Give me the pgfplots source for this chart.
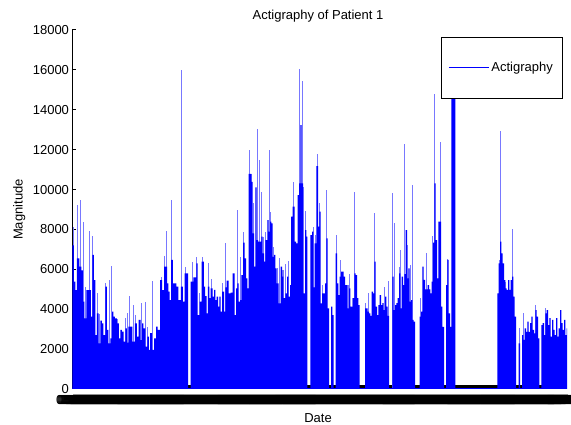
\documentclass[border=0pt]{standalone}
\usepackage{fontspec}
\setmainfont{Liberation Sans}
\usepackage{pgfplots}
\pgfplotsset{compat=1.18}
\definecolor{actblue}{RGB}{0,0,255}
\definecolor{actspike}{RGB}{120,120,255}
\newcommand\chartfont{\fontsize{13}{15}\selectfont}

% activity level between samples (x = sample position, y = counts)
\pgfplotstableread{
x y
72.5 7200
74 5380
75.5 4960
77 6550
79.3 6130
81.5 5950
83 4380
84.5 3540
86.5 4960
89 4960
91 3630
92.3 6720
94 5460
95.5 2700
97 3790
98.7 2290
100.3 3430
102 3290
103.5 2700
105.3 5130
106.8 2960
108.5 2290
110.5 2540
112.2 3880
113.5 3630
115 3540
117 3290
118.8 2540
120.3 2960
122 2880
123.7 2370
125.3 3040
126.8 2320
128.5 3130
130.3 3130
132.5 2370
135 3290
137 2620
138.7 3460
140.7 2450
142.2 3290
143.5 3040
145.3 2120
147.3 2620
148.8 1960
150.2 2800
152 1960
154 2540
156 3130
157.5 2960
160 5460
162.2 4960
164 6130
165.5 6130
167 5300
168.3 4880
169.7 4460
171 6470
172.8 5300
174.5 5300
176.3 5130
178.3 4460
180.8 5130
182.8 4380
184.5 5800
186.5 5800
188 0
190.7 5380
193.3 5600
196.3 6300
197.7 3710
199.5 4380
201.7 6380
203.8 5130
205.2 4660
206.5 3790
207.8 5130
209.3 4550
210.7 5050
212.5 4630
214 4970
215.3 4460
216.7 4630
218 4130
219.3 4630
220.7 3880
222 4880
224 3880
225.3 5100
226.7 5430
228.5 4800
230.5 4830
232.5 5800
234.5 3710
236 5050
237.3 5300
238.7 4380
240 4460
241.3 5710
243 7340
244.7 6550
246 5550
247.3 5050
248.7 10780
250 10780
251.3 10390
252.7 7800
254 6130
255.3 10110
256.7 7470
258 7390
259.3 7390
261.3 7640
262.7 6800
264 6380
265.3 7470
267.3 8470
268.7 7890
270 8390
271.3 8300
272.7 6630
274 6720
275.3 6050
276.7 5300
278.7 4290
280.7 6130
282 5630
283.3 4550
285.3 4800
287 5630
288.3 4630
290 5210
291 8640
292.7 9140
294.7 7390
296 7300
297.7 9720
299 10310
300.3 13230
301.7 10310
303 4800
305 7970
306.3 7640
307.3 0
310.3 7720
312 7890
313.3 5100
314.7 7300
316.3 11180
318 8140
319.3 8890
320.7 4290
322 4800
323.3 4800
325 5300
326.3 7550
327.7 4040
329 0
331 4130
332.3 3710
333.7 0
335.7 6800
337 5300
338.3 4710
339.7 5630
341 5880
342.3 5880
343.7 5630
345 5210
346.3 5210
347.7 4040
349 5050
350.3 4130
351.7 4130
353 4550
354.3 5800
355.7 5710
357 4550
358.3 4210
359.7 0
365 4040
366.3 4040
367.7 3880
369 3790
370.3 3660
371.7 4880
373 4800
374.3 6380
375.7 4130
377 3710
378.3 4210
379.7 4710
381 4210
382.3 4300
383.7 3960
385 4630
386.3 4130
387.7 3660
389 0
392.3 5630
393.7 3960
395 4210
396.3 4300
397.7 4550
399 5800
400.3 4040
401.7 5630
403 5210
404.3 5760
405.7 7970
407 5550
408.3 6050
409.7 4380
411 4460
412.3 3460
413.7 3380
415 0
419.7 3630
421 3880
422.3 6130
423.7 5470
425 4990
426.3 4990
427.7 5210
429 4990
430.3 4800
431.7 5380
433 7340
434.3 10310
435.7 7470
437 5550
438.3 8390
439.7 8390
441 4130
442.3 3120
444 0
446 5210
447.3 6470
448.7 3790
450 3120
451.3 17500
455.3 0
497.3 4800
498.7 6300
500 7390
501.3 6800
502.7 6300
504 5460
505.3 5050
506.7 4970
508 5460
509.3 4970
510.7 5460
512 5630
513.3 4630
514.7 3630
516 0
518.7 2290
520 0
522 2700
523.3 2460
524.7 3040
526 2870
527.3 3380
528.7 2870
530 3300
531.3 3630
532.7 2960
534 2790
535.3 3960
536.7 3630
538 2540
539.3 0
541.3 3200
542.7 3300
544 2700
545.3 3790
546.7 3960
548 3200
549.3 3550
550.7 2620
552 3460
553.3 2960
554.7 2700
556 3550
557.3 2620
558.7 3040
560 3960
561.3 3300
562.7 2960
564 3460
565.3 2700
566.7 3040
567 3040
}\actlevel

% short bursts rising above the level
\pgfplotstableread{
x y
74 8100
78 9220
80.3 9500
83.3 8390
85.3 5130
90 7920
92.7 7670
97.3 4800
99.3 3750
106 5300
109.3 5460
111.3 6170
117.7 3520
126 3540
127.3 3790
129.3 4660
133.3 4210
135.7 3710
141.3 4330
146 4380
148 3130
152.7 5410
161 5630
164.7 6670
166 7920
171.3 9470
181.5 16000
185 6130
192 6380
196.7 6630
199.5 4800
202.5 6630
208.3 6300
211 5510
222.3 5330
225.7 7300
237.7 8970
240.3 6630
243.3 7890
249 11980
251.7 10780
253 9310
257 13020
259.7 11480
261.7 9890
263 7640
265.7 7890
269 11980
270.3 8890
273 7130
277 6050
279 6550
282.3 5960
283.7 5960
285.7 6260
288.7 6430
293 10390
299.3 16030
302 15440
303.3 10140
305.3 8940
313.7 8100
315 7720
317 11780
319.7 9310
322.3 5210
326.7 9980
336 7720
340 6470
348 5210
349.3 5760
352 4550
354.7 9890
365.3 4300
368 4800
374.7 8810
384 5100
388 5430
392.7 9810
394 8310
399.3 6130
400.7 6970
404.7 12280
407.3 7220
410 6220
412.7 10230
420 4550
426.7 6830
432 7670
434.7 14790
440 12370
447.7 6500
499 6470
500.3 12930
505.7 5380
512.3 8000
519 3040
523.7 3830
535.7 4190
545.7 4080
}\actpeaks

\begin{document}
\begin{tikzpicture}
\path[use as bounding box] (0,0) rectangle (571pt,425pt);
\begin{axis}[
  at={(72.5pt,36pt)}, anchor=south west,
  scale only axis, width=494.5pt, height=359pt,
  xmin=72.5, xmax=567, ymin=0, ymax=18000,
  axis x line*=bottom, axis y line*=left,
  axis line style={-, line width=1pt, black},
  tick align=inside, major tick length=4pt,
  tick style={line width=1pt, black},
  ytick={0,2000,...,18000},
  scaled y ticks=false,
  /pgf/number format/assume math mode=true,
  yticklabel style={/pgf/number format/1000 sep={}},
  xtick={72.5,73.5,...,566.5},
  xticklabel={05/\pgfmathparse{int(14+(\tick-72.5)/33)}\pgfmathprintnumber[int detect]{\pgfmathresult}},
  xticklabel style={anchor=base, yshift=-16pt},
  tick label style={font=\chartfont},
  every axis title shift=0pt,
  title={Actigraphy of Patient 1},
  title style={at={(0.4965,1.0279)}, anchor=base, yshift=0pt, font=\chartfont},
  xlabel={Date},
  xlabel style={at={(0.4965,-0.0933)}, anchor=base, font=\chartfont},
  ylabel={Magnitude},
  ylabel style={at={(-0.1011,0.5)}, anchor=base, font=\chartfont},
  legend style={at={(0.9899,0.9805)}, anchor=north east, draw=black,
    fill=white, font=\chartfont, inner xsep=7pt, inner ysep=23pt},
  legend image code/.code={%
    \draw[mark repeat=2,mark phase=2,#1]
      plot coordinates {(0pt,0pt) (20pt,0pt) (40pt,0pt)};},
]
\addplot[ycomb, actspike, line width=1pt, forget plot] table {\actpeaks};
\addplot[const plot, fill=actblue, draw=none, forget plot] table {\actlevel} \closedcycle;
\addplot[actblue, line width=2pt, forget plot] coordinates {(72.5,0) (567,0)};
\addlegendimage{actblue, line width=0.8pt}
\addlegendentry{Actigraphy}
\end{axis}
\end{tikzpicture}
\end{document}
